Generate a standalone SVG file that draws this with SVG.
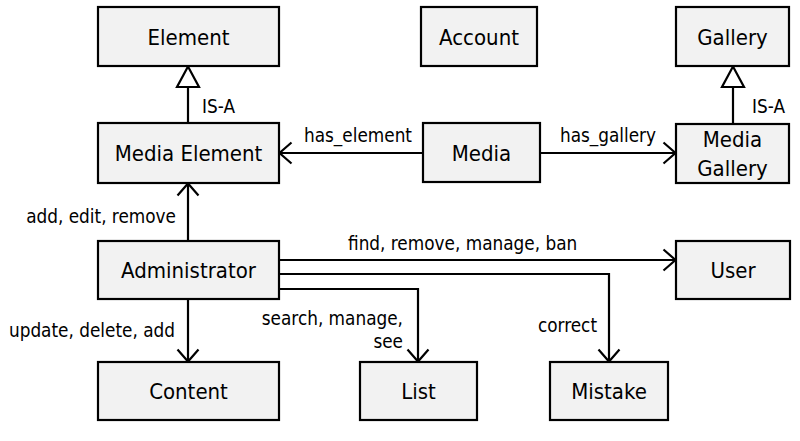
<svg xmlns="http://www.w3.org/2000/svg" width="800" height="441" viewBox="0 0 800 441">
<style>
.box{fill:#f2f2f2;stroke:#000;stroke-width:2.2}
.nt{font-family:"DejaVu Sans Condensed","DejaVu Sans",sans-serif;font-stretch:condensed;font-size:22px;text-anchor:middle;fill:#000}
.lt{font-family:"DejaVu Sans Condensed","DejaVu Sans",sans-serif;font-stretch:condensed;font-size:18.8px;fill:#000}
.e{fill:none;stroke:#000;stroke-width:2.2}
.a{marker-end:url(#open)}
</style>
<defs>
<marker id="open" markerUnits="userSpaceOnUse" markerWidth="30" markerHeight="30" viewBox="-15 -15 30 30" refX="0" refY="0" orient="auto">
<path d="M-12,-10.5 L0,0 L-12,10.5" fill="none" stroke="#000" stroke-width="2.2"/>
</marker>
</defs>
<g id="connectors">
<path class="e" d="M188,123 V87"/>
<path d="M188,66.5 L177,87 L199,87 Z" fill="#fff" stroke="#000" stroke-width="2.2"/>
<path class="e" d="M733,124 V87"/>
<path d="M733,66.5 L722,87 L744,87 Z" fill="#fff" stroke="#000" stroke-width="2.2"/>
<path class="e a" d="M423,153 H279.5"/>
<path class="e a" d="M540,153 H675.5"/>
<path class="e a" d="M188,241 V183.5"/>
<path class="e a" d="M188,299 V361.5"/>
<path class="e a" d="M279,260 H675.5"/>
<path class="e a" d="M279,274 H609 V361.5"/>
<path class="e a" d="M279,289 H418 V361.5"/>
<text class="lt" x="202" y="113">IS-A</text>
<text class="lt" x="752" y="113">IS-A</text>
<text class="lt" x="358" y="142" text-anchor="middle">has_element</text>
<text class="lt" x="608" y="142" text-anchor="middle">has_gallery</text>
<text class="lt" x="176" y="223" text-anchor="end">add, edit, remove</text>
<text class="lt" x="175" y="337" text-anchor="end">update, delete, add</text>
<text class="lt" x="348" y="250">find, remove, manage, ban</text>
<text class="lt" x="403" y="325" text-anchor="end">search, manage,</text>
<text class="lt" x="403" y="348" text-anchor="end">see</text>
<text class="lt" x="597" y="332" text-anchor="end">correct</text>
</g>
<g id="element"><rect class="box" x="98" y="7" width="181" height="59"/><text class="nt" x="188.5" y="44.5">Element</text></g>
<g id="account"><rect class="box" x="421" y="7" width="116" height="59"/><text class="nt" x="479" y="44.5">Account</text></g>
<g id="gallery"><rect class="box" x="676" y="7" width="113" height="59"/><text class="nt" x="732.5" y="44.5">Gallery</text></g>
<g id="media-element"><rect class="box" x="98" y="123" width="181" height="60"/><text class="nt" x="188.5" y="161">Media Element</text></g>
<g id="media"><rect class="box" x="423" y="123" width="117" height="59"/><text class="nt" x="481.5" y="161">Media</text></g>
<g id="media-gallery"><rect class="box" x="676" y="124" width="113" height="59"/><text class="nt" x="732.5" y="147">Media</text><text class="nt" x="732.5" y="176">Gallery</text></g>
<g id="administrator"><rect class="box" x="98" y="241" width="181" height="58"/><text class="nt" x="188.5" y="278">Administrator</text></g>
<g id="user"><rect class="box" x="676" y="241" width="114" height="58"/><text class="nt" x="733" y="278">User</text></g>
<g id="content"><rect class="box" x="98" y="362" width="181" height="58"/><text class="nt" x="188.5" y="399">Content</text></g>
<g id="list"><rect class="box" x="360" y="362" width="117" height="58"/><text class="nt" x="418.5" y="399">List</text></g>
<g id="mistake"><rect class="box" x="550" y="362" width="118" height="58"/><text class="nt" x="609" y="399">Mistake</text></g>
</svg>
